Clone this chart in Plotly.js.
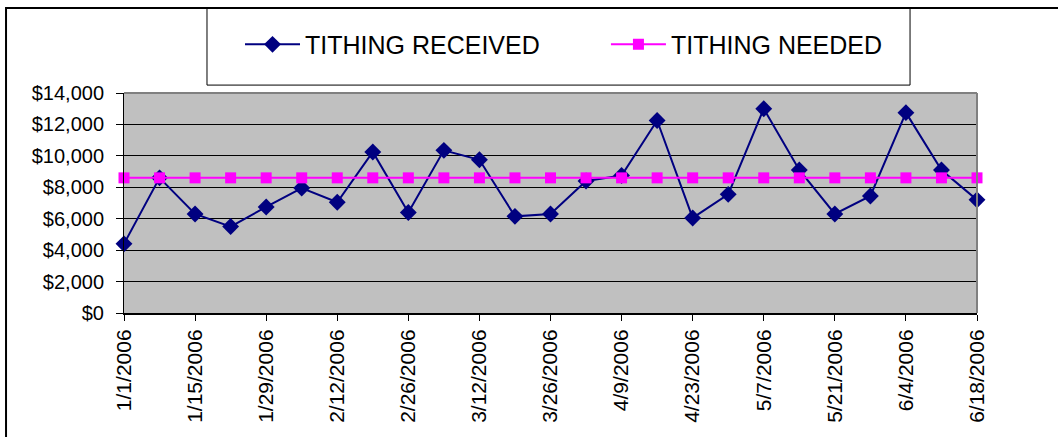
<!DOCTYPE html>
<html>
<head>
<meta charset="utf-8">
<script src="https://cdn.plot.ly/plotly-3.0.1.min.js"></script>
<style>html,body{margin:0;padding:0;background:#fff;}#chart{width:1058px;height:437px;}</style>
</head>
<body>
<div id="chart"></div>
<script>
const dates = ["1/1/2006","1/8/2006","1/15/2006","1/22/2006","1/29/2006","2/5/2006","2/12/2006","2/19/2006","2/26/2006","3/5/2006","3/12/2006","3/19/2006","3/26/2006","4/2/2006","4/9/2006","4/16/2006","4/23/2006","4/30/2006","5/7/2006","5/14/2006","5/21/2006","5/28/2006","6/4/2006","6/11/2006","6/18/2006"];
const received = [4400,8600,6300,5500,6750,7950,7050,10250,6400,10350,9750,6150,6300,8400,8750,12250,6050,7550,13000,9100,6300,7450,12750,9100,7200];
const needed = [8600,8600,8600,8600,8600,8600,8600,8600,8600,8600,8600,8600,8600,8600,8600,8600,8600,8600,8600,8600,8600,8600,8600,8600,8600];
const tickLabels = ["1/1/2006","1/15/2006","1/29/2006","2/12/2006","2/26/2006","3/12/2006","3/26/2006","4/9/2006","4/23/2006","5/7/2006","5/21/2006","6/4/2006","6/18/2006"];
const seriesNames = ["TITHING RECEIVED","TITHING NEEDED"];

const FONT = "Arial, 'Liberation Sans', sans-serif";
const traces = [
  {x: dates, y: received, name: seriesNames[0], type: 'scatter', mode: 'lines+markers', legend: 'legend',
   line: {color: '#000080', width: 2}, marker: {symbol: 'diamond', size: 13, color: '#000080'}, cliponaxis: false},
  {x: dates, y: needed, name: seriesNames[1], type: 'scatter', mode: 'lines+markers', legend: 'legend2',
   line: {color: '#FF00FF', width: 2}, marker: {symbol: 'square', size: 11, color: '#FF00FF'}, cliponaxis: false}
];
const legendStyle = {orientation: 'h', xanchor: 'left', y: 1.22, yanchor: 'middle',
  font: {family: FONT, size: 25, color: '#000'}, bgcolor: 'rgba(0,0,0,0)', itemwidth: 55};
const layout = {
  width: 1058, height: 437,
  margin: {l: 124, r: 81, t: 93, b: 124},
  paper_bgcolor: '#ffffff', plot_bgcolor: '#C0C0C0',
  font: {family: FONT, color: '#000', size: 20},
  showlegend: true,
  legend: Object.assign({x: 0.136}, legendStyle),
  legend2: Object.assign({x: 0.565}, legendStyle),
  xaxis: {type: 'category', range: [0, dates.length - 1], tickmode: 'array', tickvals: tickLabels, ticktext: tickLabels,
    tickangle: -90, ticks: 'outside', ticklen: 6, tickcolor: '#000', showline: true, linecolor: '#000', linewidth: 2,
    showgrid: false, zeroline: false, tickfont: {family: FONT, size: 21, color: '#000'}, fixedrange: true},
  yaxis: {range: [0, 14000], dtick: 2000, tick0: 0, tickprefix: '$', tickformat: ',d', ticks: 'outside', ticklen: 7,
    tickcolor: '#000', showline: true, linecolor: '#000', linewidth: 1, showgrid: true, gridcolor: '#000', gridwidth: 1,
    zeroline: false, tickfont: {family: FONT, size: 20, color: '#000'}, ticklabelstandoff: 8, fixedrange: true},
  shapes: [
    {type: 'line', xref: 'paper', yref: 'paper', x0: 0, x1: 1, y0: 1, y1: 1, line: {color: '#808080', width: 2}, layer: 'above'},
    {type: 'line', xref: 'paper', yref: 'paper', x0: 1, x1: 1, y0: 0, y1: 1, line: {color: '#808080', width: 2}, layer: 'above'},
    {type: 'rect', xref: 'paper', yref: 'paper', x0: -0.1383, x1: 1.2, y0: -0.7, y1: 1.386, line: {color: '#000', width: 2}, layer: 'above'},
    {type: 'rect', xref: 'paper', yref: 'paper', x0: 0.0973, x1: 0.9215, y0: 1.036, y1: 1.386, line: {color: '#000', width: 1}, layer: 'above'}
  ]
};
Plotly.newPlot('chart', traces, layout, {displayModeBar: false, staticPlot: true});
</script>
</body>
</html>
